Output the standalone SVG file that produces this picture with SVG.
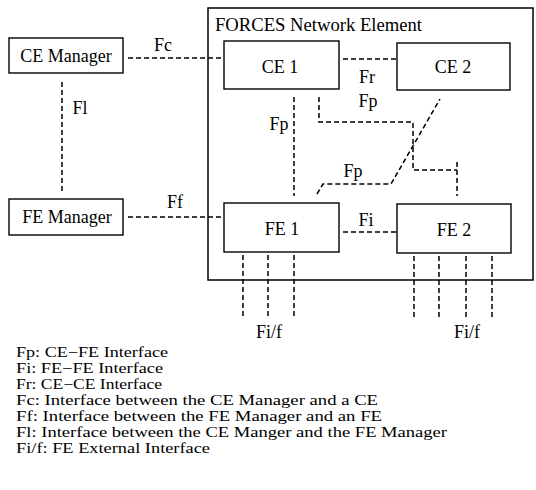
<svg xmlns="http://www.w3.org/2000/svg" width="536" height="490" viewBox="0 0 536 490">
<style>
.box{fill:#fff;stroke:#000;stroke-width:1.4}
.ne{fill:none;stroke:#000;stroke-width:1.5}
.t{font-family:"Liberation Serif","DejaVu Serif",serif;font-size:18px;fill:#000}
.c{text-anchor:middle}
.lg{font-family:"Liberation Serif","DejaVu Serif",serif;font-size:14.5px;fill:#000}
.d{fill:none;stroke:#000;stroke-width:1.5;stroke-dasharray:5,3}
</style>
<rect width="536" height="490" fill="#fff"/>
<g id="ne">
<rect class="ne" x="208" y="8" width="325" height="272"/>
<text class="t" x="215" y="31" textLength="207" lengthAdjust="spacingAndGlyphs">FORCES Network Element</text>
</g>
<g id="connectors">
<line class="d" x1="128" y1="58" x2="224" y2="58"/>
<line class="d" x1="128" y1="217" x2="224" y2="217"/>
<line class="d" x1="62" y1="82" x2="62" y2="192"/>
<line class="d" x1="343" y1="59" x2="397" y2="59"/>
<line class="d" x1="343" y1="232" x2="397" y2="232"/>
<line class="d" x1="294" y1="97" x2="294" y2="196"/>
<path class="d" d="M319,97 V122 H413 V170 H457"/>
<line class="d" x1="457" y1="162" x2="457" y2="196"/>
<path class="d" d="M317,194 L323,184 H391 L440,99"/>
<line class="d" x1="243" y1="255" x2="243" y2="318"/>
<line class="d" x1="268" y1="255" x2="268" y2="318"/>
<line class="d" x1="294" y1="255" x2="294" y2="318"/>
<line class="d" x1="414" y1="256" x2="414" y2="319"/>
<line class="d" x1="439" y1="256" x2="439" y2="319"/>
<line class="d" x1="466" y1="256" x2="466" y2="319"/>
<line class="d" x1="492" y1="256" x2="492" y2="319"/>
<text class="t c" x="163" y="51">Fc</text>
<text class="t c" x="175" y="208">Ff</text>
<text class="t c" x="80" y="114">Fl</text>
<text class="t c" x="367" y="83">Fr</text>
<text class="t c" x="366" y="226">Fi</text>
<text class="t c" x="279" y="130">Fp</text>
<text class="t c" x="368" y="107">Fp</text>
<text class="t c" x="353" y="177">Fp</text>
<text class="t c" x="269" y="338">Fi/f</text>
<text class="t c" x="467" y="338">Fi/f</text>
</g>
<g id="ce-manager">
<rect class="box" x="9" y="38" width="114" height="35"/>
<text class="t c" x="66" y="62">CE Manager</text>
</g>
<g id="fe-manager">
<rect class="box" x="9" y="199" width="114" height="36"/>
<text class="t c" x="67" y="223">FE Manager</text>
</g>
<g id="ce1">
<rect class="box" x="224" y="41" width="115" height="48"/>
<text class="t c" x="280" y="73">CE 1</text>
</g>
<g id="ce2">
<rect class="box" x="397" y="43" width="113" height="47"/>
<text class="t c" x="453" y="73">CE 2</text>
</g>
<g id="fe1">
<rect class="box" x="224" y="203" width="115" height="49"/>
<text class="t c" x="282" y="235">FE 1</text>
</g>
<g id="fe2">
<rect class="box" x="397" y="204" width="114" height="49"/>
<text class="t c" x="454" y="236">FE 2</text>
</g>
<g id="legend">
<text class="lg" x="16" y="357" textLength="152" lengthAdjust="spacingAndGlyphs">Fp: CE−FE Interface</text>
<text class="lg" x="16" y="373" textLength="147" lengthAdjust="spacingAndGlyphs">Fi: FE−FE Interface</text>
<text class="lg" x="16" y="389" textLength="146" lengthAdjust="spacingAndGlyphs">Fr: CE−CE Interface</text>
<text class="lg" x="16" y="405" textLength="362" lengthAdjust="spacingAndGlyphs">Fc: Interface between the CE Manager and a CE</text>
<text class="lg" x="16" y="421" textLength="366" lengthAdjust="spacingAndGlyphs">Ff: Interface between the FE Manager and an FE</text>
<text class="lg" x="16" y="437" textLength="431" lengthAdjust="spacingAndGlyphs">Fl: Interface between the CE Manger and the FE Manager</text>
<text class="lg" x="16" y="453" textLength="194" lengthAdjust="spacingAndGlyphs">Fi/f: FE External Interface</text>
</g>
</svg>
